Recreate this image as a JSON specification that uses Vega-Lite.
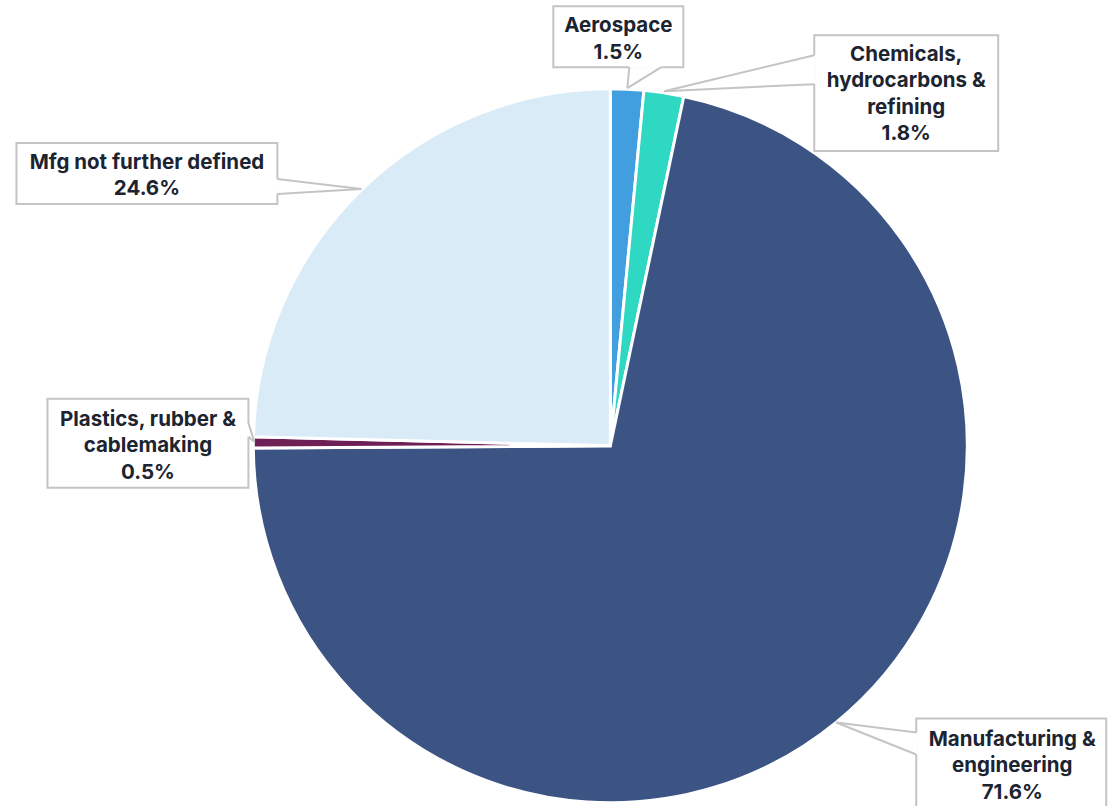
{
  "$schema": "https://vega.github.io/schema/vega-lite/v6.json",
  "width": 1110,
  "height": 806,
  "padding": 0,
  "autosize": {"type": "none"},
  "background": "white",
  "config": {"view": {"stroke": null}},
  "datasets": {
    "slices": [
      {"category": "Aerospace", "label": "Aerospace", "value": 1.5, "ord": 1},
      {"category": "Chemicals", "label": "Chemicals,\nhydrocarbons &\nrefining", "value": 1.8, "ord": 2},
      {"category": "Manufacturing", "label": "Manufacturing &\nengineering", "value": 71.6, "ord": 3},
      {"category": "Plastics", "label": "Plastics, rubber &\ncablemaking", "value": 0.5, "ord": 4},
      {"category": "Mfg nfd", "label": "Mfg not further defined", "value": 24.6, "ord": 5}
    ],
    "callouts": [
      {"category": "Aerospace", "left": -15.97, "right": 20.45, "top": 123.25, "bottom": 106.16, "tx": 2.24, "ty": 117.7, "ax": 5.32, "ay": 106.16, "bx": 14.29, "by": 106.16, "px": 4.76, "py": 100.28},
      {"category": "Chemicals", "left": 57.14, "right": 108.68, "top": 115.13, "bottom": 82.63, "tx": 82.91, "ty": 109.6, "ax": 57.14, "ay": 109.52, "bx": 57.14, "by": 101.4, "px": 15.13, "py": 99.44},
      {"category": "Manufacturing", "left": 85.71, "right": 138.94, "top": -76.47, "bottom": -102.5, "tx": 112.6, "ty": -82.4, "ax": 85.71, "ay": -80.39, "bx": 85.71, "by": -86.55, "px": 63.31, "py": -77.59},
      {"category": "Plastics", "left": -157.7, "right": -101.4, "top": 13.17, "bottom": -11.76, "tx": -129.55, "ty": 7.3, "ax": -101.4, "ay": 6.44, "bx": -101.4, "by": 2.52, "px": -99.72, "py": 1.12},
      {"category": "Mfg nfd", "left": -166.39, "right": -93.28, "top": 84.87, "bottom": 67.79, "tx": -129.83, "ty": 79.3, "ax": -93.28, "ay": 74.79, "bx": -93.28, "by": 70.59, "px": -69.75, "py": 71.99}
    ]
  },
  "layer": [
    {
      "data": {"name": "slices"},
      "mark": {"type": "arc", "radius": 357, "stroke": "white", "strokeWidth": 3},
      "encoding": {
        "x": {"datum": 0, "type": "quantitative", "scale": {"domain": [-171, 140], "nice": false, "zero": false}, "axis": null},
        "y": {"datum": 0, "type": "quantitative", "scale": {"domain": [-101, 125], "nice": false, "zero": false}, "axis": null},
        "theta": {"field": "value", "type": "quantitative", "stack": true},
        "order": {"field": "ord", "type": "quantitative"},
        "color": {
          "field": "category", "type": "nominal", "legend": null,
          "scale": {
            "domain": ["Aerospace", "Chemicals", "Manufacturing", "Plastics", "Mfg nfd"],
            "range": ["#419fdf", "#2ed8c3", "#3b5483", "#6e1f55", "#daebf8"]
          }
        }
      }
    },
    {
      "data": {"name": "callouts"},
      "mark": {"type": "rect", "fill": "white", "stroke": "#c4c4c4", "strokeWidth": 2},
      "encoding": {
        "x": {"field": "left", "type": "quantitative"},
        "x2": {"field": "right"},
        "y": {"field": "top", "type": "quantitative"},
        "y2": {"field": "bottom"}
      }
    },
    {
      "data": {"name": "callouts"},
      "mark": {"type": "rule", "stroke": "white", "strokeWidth": 3},
      "encoding": {
        "x": {"field": "ax", "type": "quantitative"},
        "y": {"field": "ay", "type": "quantitative"},
        "x2": {"field": "bx"},
        "y2": {"field": "by"}
      }
    },
    {
      "data": {"name": "callouts"},
      "mark": {"type": "rule", "stroke": "#c4c4c4", "strokeWidth": 2},
      "encoding": {
        "x": {"field": "ax", "type": "quantitative"},
        "y": {"field": "ay", "type": "quantitative"},
        "x2": {"field": "px"},
        "y2": {"field": "py"}
      }
    },
    {
      "data": {"name": "callouts"},
      "mark": {"type": "rule", "stroke": "#c4c4c4", "strokeWidth": 2},
      "encoding": {
        "x": {"field": "bx", "type": "quantitative"},
        "y": {"field": "by", "type": "quantitative"},
        "x2": {"field": "px"},
        "y2": {"field": "py"}
      }
    },
    {
      "data": {"name": "callouts"},
      "transform": [
        {"lookup": "category", "from": {"data": {"name": "slices"}, "key": "category", "fields": ["label", "value"]}},
        {"calculate": "datum.label + '\\n' + format(datum.value, '.1f') + '%'", "as": "txt"}
      ],
      "mark": {"type": "text", "font": "Inter", "fontWeight": "bold", "fontSize": 20.5, "lineHeight": 26.5, "lineBreak": "\n", "align": "center", "baseline": "middle", "color": "#1c2431"},
      "encoding": {
        "x": {"field": "tx", "type": "quantitative"},
        "y": {"field": "ty", "type": "quantitative"},
        "text": {"field": "txt"}
      }
    }
  ]
}
